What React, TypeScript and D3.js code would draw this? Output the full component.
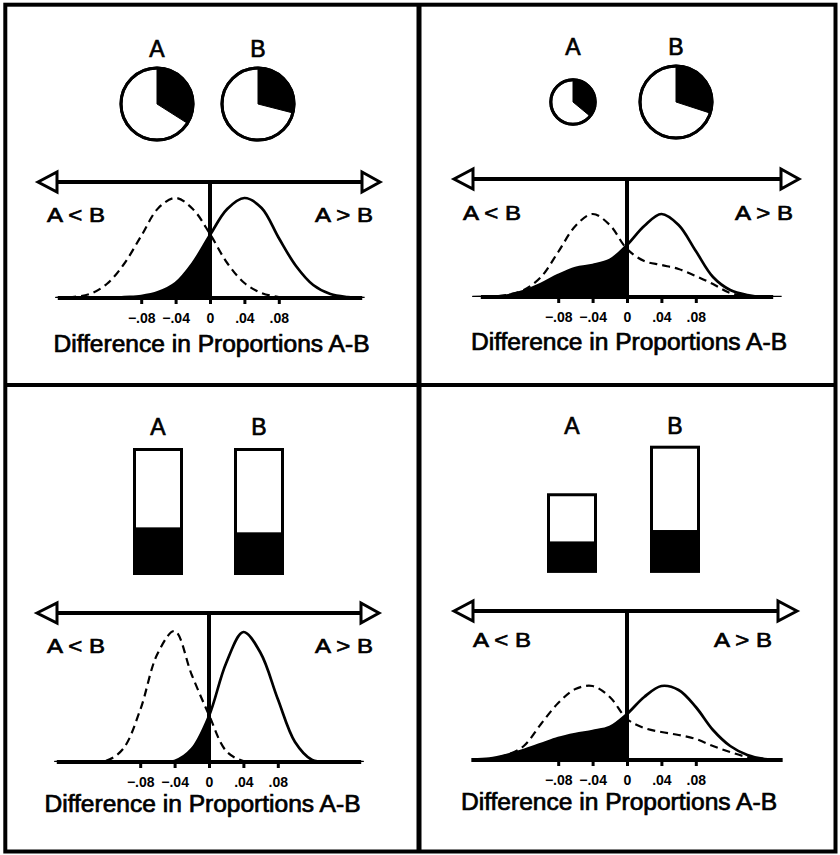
import React, { useEffect, useRef } from 'react';
import * as d3 from 'd3';

const FONT = "'Liberation Sans', Arial, sans-serif";

// groups and the x grid the densities were read at
const groups = ['A', 'B'];
const diffGrid = [
  -0.18, -0.16, -0.14, -0.12, -0.1, -0.08, -0.06, -0.04, -0.02, 0,
  0.02, 0.04, 0.06, 0.08, 0.1, 0.12, 0.14, 0.16, 0.18,
];
const tickValues = [-0.08, -0.04, 0, 0.04, 0.08];

// relative sample sizes of A and B
const sampleEqual = [100, 100];
const sampleUnequal = [38, 100];

// proportions (black part) of A and B
const propPieEqual = [0.34, 0.29];
const propPieUnequal = [0.36, 0.3];
const propBarEqual = [0.36, 0.32];
const propBarUnequal = [0.37, 0.32];

// densities at diffGrid
const solidPieEqual = [0, 0, 0, 0, 0.1, 0.2, 0.6, 1.5, 3.5, 6.3, 8.9, 10, 9.0, 6.0, 3.2, 1.3, 0.4, 0.1, 0];
const dashedPieEqual = [0, 0.1, 0.4, 1.4, 3.4, 6.2, 9.0, 10, 8.9, 6.4, 3.5, 1.5, 0.5, 0.1, 0, 0, 0, 0, 0];
const solidPieUnequal = [0, 0, 0.15, 0.6, 1.3, 2.2, 2.9, 3.2, 3.7, 5.2, 7.1, 8.3, 7.2, 4.6, 2.0, 0.7, 0.2, 0, 0];
const dashedPieUnequal = [0, 0.05, 0.2, 0.7, 2.0, 4.5, 7.1, 8.3, 7.2, 4.8, 3.6, 3.2, 2.8, 2.1, 1.3, 0.4, 0.1, 0, 0];
const solidBarEqual = [0, 0, 0, 0, 0, 0, 0, 0.1, 1.3, 4.6, 9.9, 13.0, 10.9, 6.3, 2.0, 0.2, 0, 0, 0];
const dashedBarEqual = [0, 0, 0, 0.1, 1.3, 5.2, 10.8, 13.1, 8.7, 4.7, 1.1, 0.1, 0, 0, 0, 0, 0, 0, 0];
const solidBarUnequal = [0.05, 0.15, 0.5, 1.0, 1.6, 2.2, 2.6, 2.9, 3.3, 4.6, 6.3, 7.4, 7.0, 5.3, 3.0, 1.4, 0.5, 0.1, 0];
const dashedBarUnequal = [0, 0.1, 0.5, 1.4, 3.6, 5.7, 7.1, 7.4, 6.3, 4.1, 3.2, 2.8, 2.5, 2.1, 1.4, 0.8, 0.3, 0.1, 0];

const fmt = (d: number) => (d === 0 ? '0' : d3.format('.2f')(d).replace('0.', '.'));

interface PanelProps {
  id: string;
  kind: 'pie' | 'bar';
  sizes: number[];
  props: number[];
  solid: number[];
  dashed: number[];
  zero: number;
  extent: number;
  arrowY: number;
  base: number;
  tips: [number, number, number, number];
  ltX: number;
  gtX: number;
  relY: number;
  titleX: number;
  titleY: number;
  markX: number[];
  markY: number;
  labelY: number;
}

const Axis = ({ x, y }: { x: d3.ScaleLinear<number, number>; y: number }) => {
  const ref = useRef<SVGGElement>(null);
  useEffect(() => {
    const g = d3.select(ref.current);
    g.selectAll('*').remove();
    g.call(d3.axisBottom(x).tickValues(tickValues).tickSize(6).tickPadding(9).tickFormat((d) => fmt(+d)));
    g.select('.domain').remove();
    g.selectAll('.tick line').attr('stroke', '#000').attr('stroke-width', 3);
    g.selectAll('.tick text')
      .attr('font-size', 14)
      .attr('font-weight', 'bold')
      .attr('font-family', FONT)
      .attr('fill', '#000');
  }, [x]);
  return <g ref={ref} transform={`translate(0,${y})`} />;
};

// heavier text, close to the demi weight in the original
const heavy = { fontFamily: FONT, fill: '#000', stroke: '#000', strokeWidth: 0.7 };

const Panel = (p: PanelProps) => {
  const x = d3
    .scaleLinear()
    .domain([-0.18, 0.18])
    .range([p.zero - 0.18 * 860, p.zero + 0.18 * 860]);
  const y = d3.scaleLinear().domain([0, 10]).range([p.base, p.base - 100]);

  const curve = d3.curveCatmullRom.alpha(0.5);
  const line = d3
    .line<number>()
    .x((_d, i) => x(diffGrid[i]))
    .y((d) => y(d))
    .curve(curve);
  const area = d3
    .area<number>()
    .x((_d, i) => x(diffGrid[i]))
    .y0(p.base)
    .y1((d) => y(d))
    .curve(curve);

  const pieR = d3.scaleSqrt().domain([0, 100]).range([0, 36]);
  const barH = d3.scaleSqrt().domain([0, 100]).range([0, 124]);
  const arc = d3.arc<{ end: number; r: number }>()
    .innerRadius(0)
    .outerRadius((d) => d.r)
    .startAngle(0)
    .endAngle((d) => d.end);

  const [lt, lb, rb, rt] = p.tips;
  const hh = 10;

  return (
    <g>
      <defs>
        <clipPath id={`clip-${p.id}`}>
          <rect x={x(-0.18)} y={p.arrowY} width={x(0) - x(-0.18)} height={p.base - p.arrowY} />
        </clipPath>
        <clipPath id={`curve-${p.id}`}>
          <rect x={x(-0.18)} y={p.arrowY} width={x(0.18) - x(-0.18)} height={p.base - p.arrowY} />
        </clipPath>
      </defs>

      {/* group labels and the sample marks */}
      {groups.map((g, i) => (
        <text key={g} x={p.markX[i]} y={p.labelY} textAnchor="middle" fontSize={23} {...heavy}>
          {g}
        </text>
      ))}
      {p.kind === 'pie'
        ? groups.map((g, i) => {
            const r = pieR(p.sizes[i]);
            return (
              <g key={g} transform={`translate(${p.markX[i]},${p.markY})`}>
                <circle r={r} fill="#fff" stroke="#000" strokeWidth={3} />
                <path d={arc({ end: p.props[i] * 2 * Math.PI, r }) || ''} fill="#000" stroke="#000" strokeWidth={1} />
                <circle r={r} fill="none" stroke="#000" strokeWidth={3} />
              </g>
            );
          })
        : groups.map((g, i) => {
            const h = barH(p.sizes[i]);
            const w = 47;
            return (
              <g key={g}>
                <rect x={p.markX[i] - w / 2} y={p.markY - h} width={w} height={h} fill="#fff" stroke="#000" strokeWidth={3} />
                <rect
                  x={p.markX[i] - w / 2}
                  y={p.markY - h * p.props[i]}
                  width={w}
                  height={h * p.props[i]}
                  fill="#000"
                  stroke="#000"
                  strokeWidth={3}
                />
              </g>
            );
          })}

      {/* curves */}
      <path d={area(p.solid) || ''} fill="#000" clipPath={`url(#clip-${p.id})`} />
      <g clipPath={`url(#curve-${p.id})`}>
        <path d={line(p.dashed) || ''} fill="none" stroke="#000" strokeWidth={2.2} strokeDasharray="8,5" />
        <path d={line(p.solid) || ''} fill="none" stroke="#000" strokeWidth={2.7} />
      </g>

      {/* baseline and zero line */}
      <line x1={x(-p.extent)} x2={x(p.extent)} y1={p.base} y2={p.base} stroke="#000" strokeWidth={4} />
      <line x1={x(0)} x2={x(0)} y1={p.arrowY} y2={p.base} stroke="#000" strokeWidth={4} />
      <Axis x={x} y={p.base} />

      {/* double arrow */}
      <line x1={lb} x2={rb} y1={p.arrowY} y2={p.arrowY} stroke="#000" strokeWidth={4} />
      <path
        d={`M${lt},${p.arrowY}L${lb},${p.arrowY - hh}L${lb},${p.arrowY + hh}Z`}
        fill="#fff"
        stroke="#000"
        strokeWidth={3}
      />
      <path
        d={`M${rt},${p.arrowY}L${rb},${p.arrowY - hh}L${rb},${p.arrowY + hh}Z`}
        fill="#fff"
        stroke="#000"
        strokeWidth={3}
      />

      <text x={p.ltX} y={p.relY} fontSize={21} textLength={58} lengthAdjust="spacingAndGlyphs" {...heavy}>
        A &lt; B
      </text>
      <text x={p.gtX - 58} y={p.relY} fontSize={21} textLength={58} lengthAdjust="spacingAndGlyphs" {...heavy}>
        A &gt; B
      </text>
      <text
        x={p.titleX - 158}
        y={p.titleY}
        fontSize={23}
        textLength={316}
        lengthAdjust="spacingAndGlyphs"
        {...heavy}
      >
        Difference in Proportions A-B
      </text>
    </g>
  );
};

export default function App() {
  return (
    <svg width={840} height={855} style={{ position: 'absolute', left: 0, top: 0, background: '#fff' }}>
      <rect x={0} y={0} width={840} height={855} fill="#fff" />
      <Panel
        id="tl"
        kind="pie"
        sizes={sampleEqual}
        props={propPieEqual}
        solid={solidPieEqual}
        dashed={dashedPieEqual}
        zero={210}
        extent={0.177}
        arrowY={182}
        base={298}
        tips={[38, 57, 362, 380]}
        ltX={47}
        gtX={373}
        relY={222}
        titleX={211.5}
        titleY={352}
        markX={[157, 258]}
        markY={104}
        labelY={57}
      />
      <Panel
        id="tr"
        kind="pie"
        sizes={sampleUnequal}
        props={propPieUnequal}
        solid={solidPieUnequal}
        dashed={dashedPieUnequal}
        zero={627}
        extent={0.17}
        arrowY={179}
        base={297}
        tips={[454, 473, 781, 799]}
        ltX={463}
        gtX={793}
        relY={220}
        titleX={629}
        titleY={350}
        markX={[573, 676]}
        markY={102}
        labelY={55}
      />
      <Panel
        id="bl"
        kind="bar"
        sizes={sampleEqual}
        props={propBarEqual}
        solid={solidBarEqual}
        dashed={dashedBarEqual}
        zero={209}
        extent={0.177}
        arrowY={613}
        base={762}
        tips={[37, 57, 361, 379]}
        ltX={47}
        gtX={373}
        relY={653}
        titleX={202.5}
        titleY={812}
        markX={[158, 259]}
        markY={573.5}
        labelY={435}
      />
      <Panel
        id="br"
        kind="bar"
        sizes={sampleUnequal}
        props={propBarUnequal}
        solid={solidBarUnequal}
        dashed={dashedBarUnequal}
        zero={627}
        extent={0.181}
        arrowY={611}
        base={760}
        tips={[454, 473, 778, 797]}
        ltX={473}
        gtX={772}
        relY={647}
        titleX={619}
        titleY={810}
        markX={[572, 675]}
        markY={571.2}
        labelY={434}
      />

      {/* frame and dividers */}
      <rect x={5.3} y={4.7} width={830.2} height={846.8} fill="none" stroke="#000" strokeWidth={4} />
      <line x1={419} x2={419} y1={4.7} y2={851.5} stroke="#000" strokeWidth={5} />
      <line x1={5.3} x2={835.5} y1={385} y2={385} stroke="#000" strokeWidth={4} />
    </svg>
  );
}
